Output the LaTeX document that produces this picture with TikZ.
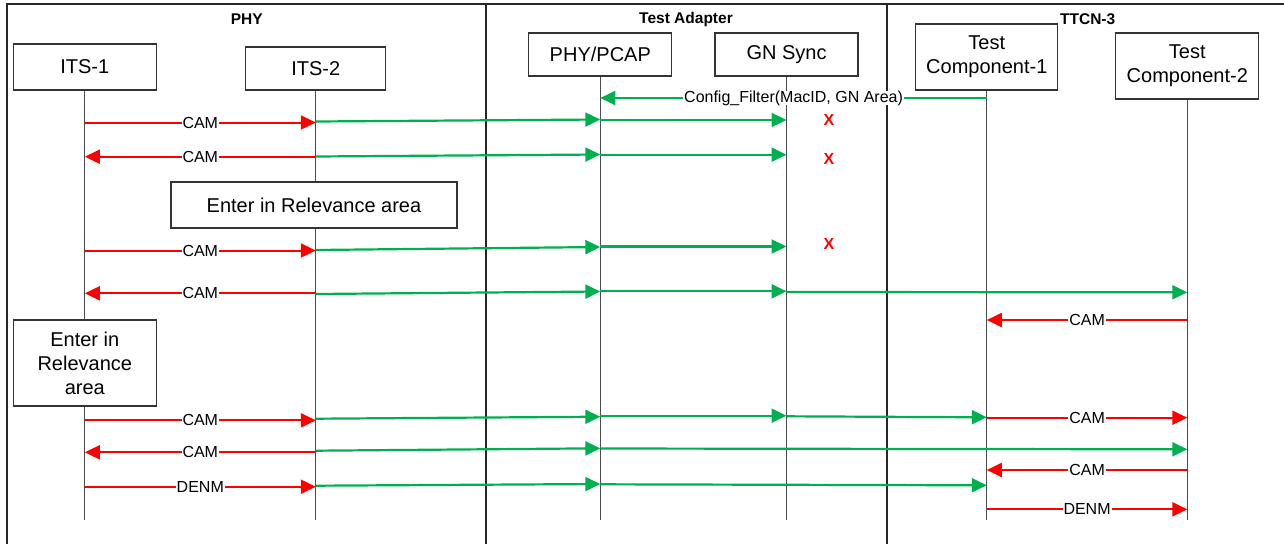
\documentclass[tikz,border=0pt]{standalone}
\usepackage{fontspec}
\setmainfont{Liberation Sans}
\usetikzlibrary{arrows.meta}

\definecolor{msgred}{HTML}{FF0000}
\definecolor{msggreen}{HTML}{00B050}

\tikzset{
  lane/.style={draw=black!85, line width=1.8pt},
  lanetitle/.style={font=\bfseries\fontsize{15.5}{18}\selectfont},
  entity/.style={draw=black!80, line width=1.2pt, fill=white, align=center, inner sep=0pt,
    font=\fontsize{20}{24}\selectfont},
  lifeline/.style={draw=black!70, line width=1.2pt},
  redmsg/.style={draw=msgred, line width=2pt, -{Triangle[length=15pt,width=14pt]}},
  grnmsg/.style={draw=msggreen, line width=2.2pt, -{Triangle[length=15pt,width=14pt]}},
  msglabel/.style={fill=white, inner xsep=1pt, inner ysep=0pt, font=\fontsize{16}{18}\selectfont},
  cross/.style={text=msgred, font=\bfseries\fontsize{16}{18}\selectfont, inner sep=0pt}
}

\begin{document}
\begin{tikzpicture}[x=1pt, y=-1pt]
    \useasboundingbox (0,0) rectangle (1284,544);

    % frame and lanes
    \draw[lane] (6.7,544) -- (6.7,4) -- (1284,4);
    \draw[lane] (485.7,4) -- (485.7,544);
    \draw[lane] (887.3,4) -- (887.3,544);
    \node[lanetitle] (tphy) at (246.7,19) {PHY};
    \node[lanetitle] (tadapt) at (686,19) {Test Adapter};
    \node[lanetitle] (tttcn) at (1087.7,19) {TTCN-3};

    % entities
    \node[entity, minimum width=143pt, minimum height=46pt] (ITS1) at (84.8,67) {ITS-1};
    \node[entity, minimum width=140pt, minimum height=43pt] (ITS2) at (315.8,68.5) {ITS-2};
    \node[entity, minimum width=143pt, minimum height=43pt] (PCAP) at (600.3,54.5) {PHY/PCAP};
    \node[entity, minimum width=143pt, minimum height=43pt] (GN) at (786.5,54.5) {GN Sync};
    \node[entity, minimum width=142pt, minimum height=66pt] (TC1) at (986.8,57) {Test\\Component-1};
    \node[entity, minimum width=143pt, minimum height=66pt] (TC2) at (1187.3,66) {Test\\Component-2};

    % lifelines
    \foreach \n in {ITS1,ITS2,PCAP,GN,TC1,TC2}
        \draw[lifeline] (\n.south) -- (\n.south |- 0,520);

    % relevance area
    \node[entity, minimum width=286pt, minimum height=46pt] (EnterA) at (314,205) {Enter in Relevance area};
    \node[entity, minimum width=143pt, minimum height=86pt] (EnterB) at (84.8,363) {Enter in\\Relevance\\area};

    % filter
    \draw[grnmsg] (TC1.south |- 0,98) -- node[msglabel] {Config\_Filter(MacID, GN Area)} (PCAP.south |- 0,98);

    % CAM before relevance area
    \draw[redmsg] (ITS1.south |- 0,122.5) -- node[msglabel] {CAM} (ITS2.south |- 0,122.5);
    \draw[grnmsg] (ITS2.south |- 0,121.5) -- (PCAP.south |- 0,119.5);
    \draw[grnmsg] (PCAP.south |- 0,120) -- (GN.south |- 0,120);
    \node[cross] (x1) at (829,120) {X};

    \draw[redmsg] (ITS2.south |- 0,156.7) -- node[msglabel] {CAM} (ITS1.south |- 0,156.7);
    \draw[grnmsg] (ITS2.south |- 0,156.5) -- (PCAP.south |- 0,154.5);
    \draw[grnmsg] (PCAP.south |- 0,154.7) -- (GN.south |- 0,154.7);
    \node[cross] (x2) at (829,159) {X};

    % ITS-2 in relevance area
    \draw[redmsg] (ITS1.south |- 0,250.5) -- node[msglabel] {CAM} (ITS2.south |- 0,250.5);
    \draw[grnmsg] (ITS2.south |- 0,250) -- (PCAP.south |- 0,247);
    \draw[grnmsg] (PCAP.south |- 0,246.5) -- (GN.south |- 0,246.5);
    \node[cross] (x3) at (829,244) {X};

    \draw[redmsg] (ITS2.south |- 0,293.3) -- node[msglabel] {CAM} (ITS1.south |- 0,293.3);
    \draw[grnmsg] (ITS2.south |- 0,294) -- (PCAP.south |- 0,291.5);
    \draw[grnmsg] (PCAP.south |- 0,291.3) -- (GN.south |- 0,291.3);
    \draw[grnmsg] (GN.south |- 0,292) -- (TC2.south |- 0,292.3);
    \draw[redmsg] (TC2.south |- 0,320) -- node[msglabel] {CAM} (TC1.south |- 0,320);

    % both in relevance area
    \draw[redmsg] (ITS1.south |- 0,420.3) -- node[msglabel] {CAM} (ITS2.south |- 0,420.3);
    \draw[grnmsg] (ITS2.south |- 0,418.7) -- (PCAP.south |- 0,416.7);
    \draw[grnmsg] (PCAP.south |- 0,415.7) -- (GN.south |- 0,415.7);
    \draw[grnmsg] (GN.south |- 0,416.3) -- (TC1.south |- 0,417.3);
    \draw[redmsg] (TC1.south |- 0,417.7) -- node[msglabel] {CAM} (TC2.south |- 0,417.7);

    \draw[redmsg] (ITS2.south |- 0,452.3) -- node[msglabel] {CAM} (ITS1.south |- 0,452.3);
    \draw[grnmsg] (ITS2.south |- 0,450.7) -- (PCAP.south |- 0,448.3);
    \draw[grnmsg] (PCAP.south |- 0,448.5) -- (TC2.south |- 0,449.3);
    \draw[redmsg] (TC2.south |- 0,470) -- node[msglabel] {CAM} (TC1.south |- 0,470);

    \draw[redmsg] (ITS1.south |- 0,486.7) -- node[msglabel] {DENM} (ITS2.south |- 0,486.7);
    \draw[grnmsg] (ITS2.south |- 0,485.7) -- (PCAP.south |- 0,484);
    \draw[grnmsg] (PCAP.south |- 0,484.3) -- (TC1.south |- 0,485.3);
    \draw[redmsg] (TC1.south |- 0,509.3) -- node[msglabel] {DENM} (TC2.south |- 0,509.3);
\end{tikzpicture}
\end{document}
